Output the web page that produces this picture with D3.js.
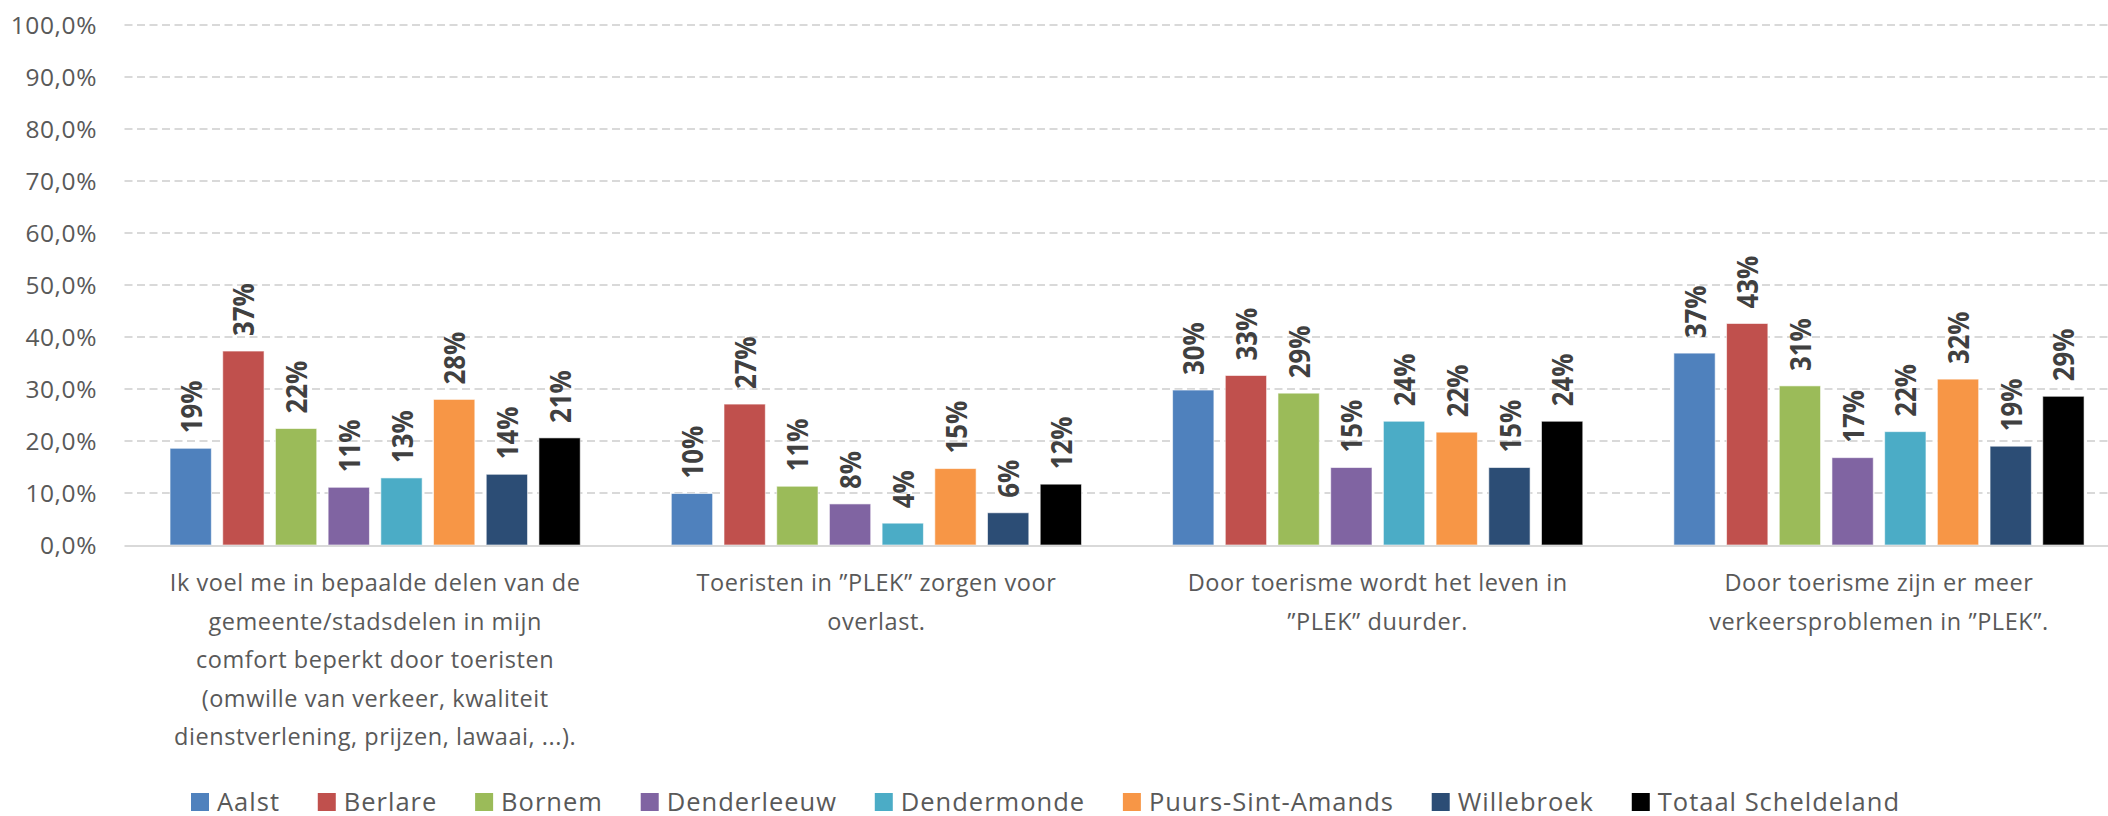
<!DOCTYPE html>
<html>
<head>
<meta charset="utf-8">
<script src="https://cdn.jsdelivr.net/npm/d3@7"></script>
<style>
  html, body { margin: 0; padding: 0; background: #fff; }
  svg { display: block; }
  text { font-family: "Open Sans", "Noto Sans", sans-serif; }
</style>
</head>
<body>
<svg id="chart" width="2108" height="816"></svg>
<script>
// ---- DATA ----
const categories = [
  ["Ik voel me in bepaalde delen van de", "gemeente/stadsdelen in mijn", "comfort beperkt door toeristen", "(omwille van verkeer, kwaliteit", "dienstverlening, prijzen, lawaai, ...)."],
  ["Toeristen in \u201dPLEK\u201d zorgen voor", "overlast."],
  ["Door toerisme wordt het leven in", "\u201dPLEK\u201d duurder."],
  ["Door toerisme zijn er meer", "verkeersproblemen in \u201dPLEK\u201d."]
];
const seriesNames = ["Aalst", "Berlare", "Bornem", "Denderleeuw", "Dendermonde", "Puurs-Sint-Amands", "Willebroek", "Totaal Scheldeland"];
const seriesColors = ["#4F81BD", "#C0504D", "#9BBB59", "#8064A2", "#4BACC6", "#F79646", "#2C4D75", "#000000"];
const aalst       = [18.6, 9.9, 29.8, 36.9];
const berlare     = [37.3, 27.1, 32.6, 42.6];
const bornem      = [22.4, 11.3, 29.2, 30.6];
const denderleeuw = [11.1, 7.9, 14.9, 16.8];
const dendermonde = [12.9, 4.2, 23.8, 21.8];
const puurs       = [28.0, 14.7, 21.7, 31.9];
const willebroek  = [13.6, 6.2, 14.9, 19.0];
const totaal      = [20.6, 11.7, 23.8, 28.6];
const yTicks = [0, 10, 20, 30, 40, 50, 60, 70, 80, 90, 100];

const seriesValues = [aalst, berlare, bornem, denderleeuw, dendermonde, puurs, willebroek, totaal];

// ---- LAYOUT ----
const svg = d3.select("#chart");
const W = 2108, H = 816;
const plotLeft = 124.5, plotRight = 2129.6, plotTop = 25, plotBottom = 545;

const x0 = d3.scaleBand().domain(d3.range(categories.length)).range([plotLeft, plotRight]).padding(0);
const x1 = d3.scaleBand().domain(d3.range(seriesNames.length)).range([0, x0.bandwidth()])
  .paddingInner(0.216).paddingOuter(0.864);
const y = d3.scaleLinear().domain([0, 100]).range([plotBottom, plotTop]);

// y axis labels
const yAxis = d3.axisLeft(y).tickValues(yTicks).tickSize(0).tickPadding(0)
  .tickFormat(d => d3.format(".1f")(d).replace(".", ",") + "%");
const gAxis = svg.append("g").attr("transform", `translate(97,0)`).call(yAxis);
gAxis.select(".domain").remove();
gAxis.selectAll("text")
  .attr("font-family", '"Open Sans", sans-serif')
  .attr("font-size", 24.5).attr("letter-spacing", 0.6)
  .attr("fill", "#595959").attr("x", 0).attr("dy", "0.35em");

// gridlines
svg.append("g").selectAll("line.grid").data(yTicks.filter(d => d > 0)).join("line")
  .attr("x1", plotLeft).attr("x2", W).attr("y1", d => y(d)).attr("y2", d => y(d))
  .attr("stroke", "#d9d9d9").attr("stroke-width", 2).attr("stroke-dasharray", "8,4.5");

// bars
const groups = svg.append("g").selectAll("g.grp").data(categories.map((c, i) => i)).join("g")
  .attr("transform", i => `translate(${x0(i)},0)`);

groups.selectAll("rect").data(i => seriesValues.map((vals, s) => ({ s, v: vals[i] }))).join("rect")
  .attr("x", d => x1(d.s)).attr("width", x1.bandwidth())
  .attr("y", d => y(d.v)).attr("height", d => y(0) - y(d.v))
  .attr("fill", d => seriesColors[d.s])
  .attr("stroke", "#ffffff").attr("stroke-width", 1).attr("stroke-opacity", 0.6);

// baseline
svg.append("line").attr("x1", plotLeft).attr("x2", W).attr("y1", plotBottom + 1).attr("y2", plotBottom + 1)
  .attr("stroke", "#d9d9d9").attr("stroke-width", 2);

// data labels
groups.selectAll("text.lbl").data(i => seriesValues.map((vals, s) => ({ s, v: vals[i] }))).join("text")
  .attr("class", "lbl")
  .attr("transform", d => `translate(${x1(d.s) + x1.bandwidth() / 2 + 1},${y(d.v) - 15}) rotate(-90) scale(0.92,1)`)
  .attr("dy", "0.36em")
  .attr("text-anchor", "start")
  .attr("font-family", '"Open Sans", sans-serif')
  .attr("font-weight", 700).attr("font-size", 28).attr("fill", "#404040")
  .text(d => Math.round(d.v) + "%");

// category labels
const catG = svg.append("g").selectAll("text.cat").data(categories).join("text")
  .attr("class", "cat")
  .attr("text-anchor", "middle")
  .attr("font-size", 23.5).attr("letter-spacing", 0.55).attr("fill", "#595959")
  .attr("x", (d, i) => x0(i) + x0.bandwidth() / 2)
  .attr("y", 591);
catG.selectAll("tspan").data(d => d).join("tspan")
  .attr("x", function () { return this.parentNode.getAttribute("x"); })
  .attr("dy", (d, i) => i === 0 ? 0 : 38.6)
  .text(d => d);

// legend
const legendStart = 191, legendEnd = 1900, sq = 18, sqGap = 8;
const leg = svg.append("g");
const items = leg.selectAll("g.li").data(seriesNames).join("g").attr("class", "li");
items.append("rect").attr("width", sq).attr("height", sq).attr("y", 793)
  .attr("fill", (d, i) => seriesColors[i]);
const txt = items.append("text").attr("x", sq + sqGap).attr("y", 810.5)
  .attr("font-size", 25.5).attr("letter-spacing", 1).attr("fill", "#595959").text(d => d);
const widths = [];
txt.each(function () { widths.push(this.getComputedTextLength()); });
const totalItems = d3.sum(widths) + seriesNames.length * (sq + sqGap);
const gap = (legendEnd - legendStart - totalItems) / (seriesNames.length - 1);
let cx = legendStart;
items.each(function (d, i) {
  d3.select(this).attr("transform", `translate(${cx},0)`);
  cx += sq + sqGap + widths[i] + gap;
});
</script>
</body>
</html>
